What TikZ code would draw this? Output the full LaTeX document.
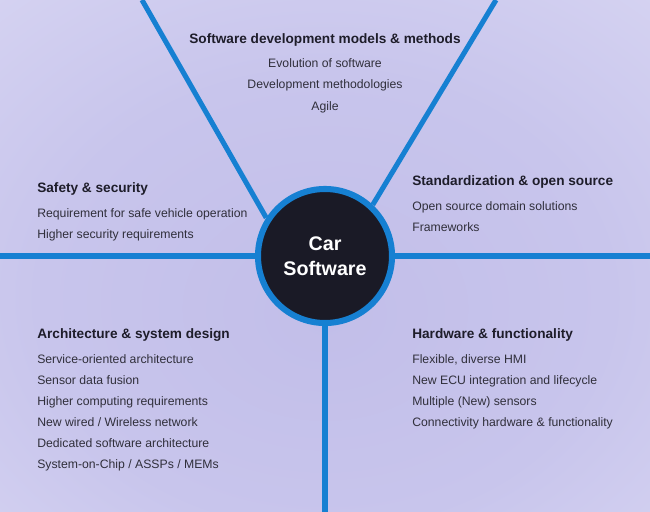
\documentclass[tikz,border=0pt]{standalone}
\usepackage{fontspec}
\setmainfont{Liberation Sans}
\usetikzlibrary{calc,shapes.geometric}

\definecolor{spokeblue}{RGB}{22,128,210}
\definecolor{hubnavy}{RGB}{26,26,38}
\definecolor{ink}{RGB}{30,29,42}
\definecolor{hazeA}{RGB}{194,190,233}
\definecolor{hazeB}{RGB}{200,197,236}
\definecolor{hazeC}{RGB}{222,220,245}
\definecolor{hazeD}{RGB}{241,240,252}
\pgfdeclareradialshading{haze}{\pgfpoint{0bp}{-6bp}}{color(0bp)=(hazeA); color(22bp)=(hazeB); color(50bp)=(hazeC); color(72bp)=(hazeD)}

\tikzset{
    spoke/.style={draw=spokeblue, line width=3.6pt},
    hub/.style={circle, draw=spokeblue, fill=hubnavy, line width=4.3pt, minimum size=3.35cm, text=white, align=center, font=\bfseries\fontsize{14}{17.8}\selectfont},
    heading/.style={inner sep=0pt, text=ink, font=\bfseries\fontsize{9.7}{11}\selectfont},
    item/.style={inner sep=0pt, text=ink!92, font=\fontsize{8.7}{10}\selectfont}
}

\begin{document}
\begin{tikzpicture}[x=0.025cm,y=-0.025cm]

    \useasboundingbox (0,0) rectangle (650,512);
    \shade[shading=haze] (0,0) rectangle (650,512);

    \node[hub] (Core) at (325,256) {Car\\Software};

    \coordinate (LeftEdge) at (0,256);
    \coordinate (RightEdge) at (650,256);
    \coordinate (Bottom) at (325,512);
    \coordinate (TopLeft) at (142,0);
    \coordinate (TopRight) at (496,0);

    \draw[spoke] (LeftEdge) -- (Core.west);
    \draw[spoke] (Core.east) -- (RightEdge);
    \draw[spoke] (Core.south) -- (Bottom);
    \draw[spoke] (TopLeft) -- (Core.147);
    \draw[spoke] (TopRight) -- (Core.47);

    % top wedge
    \node[heading, anchor=base] (Models) at (325,44) {Software development models \& methods};
    \node[item, anchor=base] (ModelsA) at ($(Models.base) + (0,24)$) {Evolution of software};
    \node[item, anchor=base] (ModelsB) at ($(ModelsA.base) + (0,21)$) {Development methodologies};
    \node[item, anchor=base] (ModelsC) at ($(ModelsB.base) + (0,21)$) {Agile};

    % upper left
    \node[heading, anchor=base west] (Safety) at (37,192) {Safety \& security};
    \node[item, anchor=base west] (SafetyA) at ($(Safety.base west) + (0,25)$) {Requirement for safe vehicle operation};
    \node[item, anchor=base west] (SafetyB) at ($(SafetyA.base west) + (0,21)$) {Higher security requirements};

    % upper right
    \node[heading, anchor=base west] (Std) at (412,185) {Standardization \& open source};
    \node[item, anchor=base west] (StdA) at ($(Std.base west) + (0,25)$) {Open source domain solutions};
    \node[item, anchor=base west] (StdB) at ($(StdA.base west) + (0,21)$) {Frameworks};

    % lower left
    \node[heading, anchor=base west] (Arch) at (37,338) {Architecture \& system design};
    \node[item, anchor=base west] (ArchA) at ($(Arch.base west) + (0,25)$) {Service-oriented architecture};
    \node[item, anchor=base west] (ArchB) at ($(ArchA.base west) + (0,21)$) {Sensor data fusion};
    \node[item, anchor=base west] (ArchC) at ($(ArchB.base west) + (0,21)$) {Higher computing requirements};
    \node[item, anchor=base west] (ArchD) at ($(ArchC.base west) + (0,21)$) {New wired / Wireless network};
    \node[item, anchor=base west] (ArchE) at ($(ArchD.base west) + (0,21)$) {Dedicated software architecture};
    \node[item, anchor=base west] (ArchF) at ($(ArchE.base west) + (0,21)$) {System-on-Chip / ASSPs / MEMs};

    % lower right
    \node[heading, anchor=base west] (Hw) at (412,338) {Hardware \& functionality};
    \node[item, anchor=base west] (HwA) at ($(Hw.base west) + (0,25)$) {Flexible, diverse HMI};
    \node[item, anchor=base west] (HwB) at ($(HwA.base west) + (0,21)$) {New ECU integration and lifecycle};
    \node[item, anchor=base west] (HwC) at ($(HwB.base west) + (0,21)$) {Multiple (New) sensors};
    \node[item, anchor=base west] (HwD) at ($(HwC.base west) + (0,21)$) {Connectivity hardware \& functionality};

\end{tikzpicture}
\end{document}
